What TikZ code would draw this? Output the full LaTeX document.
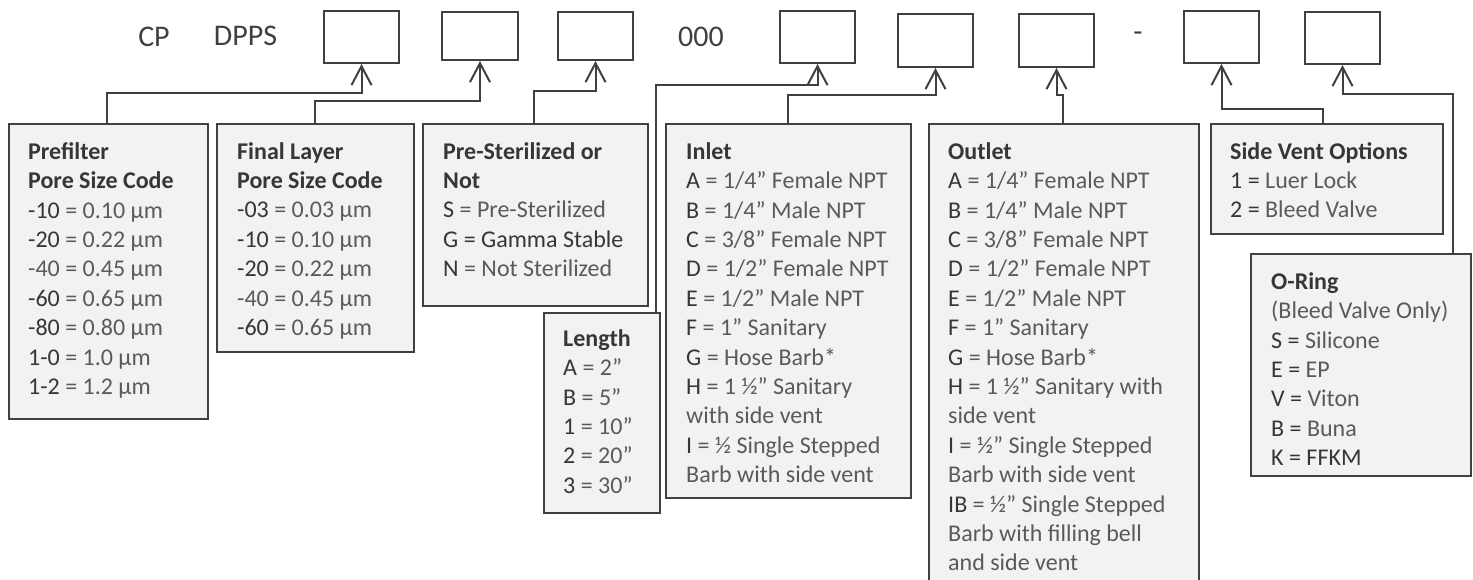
\documentclass[tikz,border=0pt]{standalone}
\usepackage{fontspec}
\setmainfont{Carlito}
\usetikzlibrary{arrows.meta}
\definecolor{ln}{HTML}{404040}
\definecolor{bx}{HTML}{F2F2F2}
\definecolor{cd}{HTML}{363636}
\definecolor{ds}{HTML}{5A5A5A}
\newcommand{\cde}[1]{\textcolor{cd}{#1}}
\newcommand{\ttl}[1]{\rule{0pt}{20pt}\textcolor{cd}{\bfseries #1}}
\newcommand{\ttlb}[1]{\textcolor{cd}{\bfseries #1}}
\begin{document}
\begin{tikzpicture}[x=1pt,y=-1pt,
  infobox/.style={draw=ln, line width=2pt, fill=bx, anchor=north west, inner sep=0pt},
  codebox/.style={draw=ln, line width=2pt, fill=white, anchor=north west, inner sep=0pt},
  info/.style={anchor=north west, inner sep=0pt, align=left, text=ds, font=\fontsize{24}{29.4}\selectfont},
  toptext/.style={text=ln, font=\fontsize{30}{36}\selectfont, inner sep=0pt},
  conn/.style={draw=ln, line width=2pt, -{Straight Barb[length=19pt,width=20pt]}},
]
\useasboundingbox (0,0) rectangle (1473,580);

% top row
\node[toptext] (cp) at (154,37) {CP};
\node[toptext] (dpps) at (245.5,36) {DPPS};
\node[toptext] (zero) at (701,37) {000};
\node[toptext] (dash) at (1138,37) {-};
\node[codebox, minimum width=75pt, minimum height=52pt] (b1) at (323,10) {};
\node[codebox, minimum width=76pt, minimum height=48pt] (b2) at (441,11) {};
\node[codebox, minimum width=75pt, minimum height=48pt] (b3) at (557,11) {};
\node[codebox, minimum width=75pt, minimum height=52pt] (b4) at (779,10) {};
\node[codebox, minimum width=75pt, minimum height=53pt] (b5) at (897,13) {};
\node[codebox, minimum width=75pt, minimum height=53pt] (b6) at (1018,13) {};
\node[codebox, minimum width=75pt, minimum height=52pt] (b7) at (1183,10) {};
\node[codebox, minimum width=75pt, minimum height=52pt] (b8) at (1304,11) {};

% info boxes
\node[infobox, minimum width=199pt, minimum height=295pt] (pf) at (8,123) {};
\node[infobox, minimum width=197pt, minimum height=228pt] (fl) at (216,123) {};
\node[infobox, minimum width=225pt, minimum height=182pt] (ps) at (422,123) {};
\node[infobox, minimum width=116pt, minimum height=200pt] (len) at (543,312) {};
\node[infobox, minimum width=245pt, minimum height=374pt] (inl) at (665,123) {};
\node[infobox, minimum width=270pt, minimum height=470pt] (out) at (928,123) {};
\node[infobox, minimum width=232pt, minimum height=110pt] (sv) at (1210,123) {};
\node[infobox, minimum width=220pt, minimum height=222pt] (or) at (1250,253) {};

% texts
\node[info] (tpf) at (28,139) {\ttl{Prefilter}\\ \ttlb{Pore Size Code}\\
\cde{-10} = 0.10 µm\\ \cde{-20} = 0.22 µm\\ -40 = 0.45 µm\\ \cde{-60} = 0.65 µm\\
\cde{-80} = 0.80 µm\\ \cde{1-0} = 1.0 µm\\ \cde{1-2} = 1.2 µm};
\node[info] (tfl) at (237,139) {\ttl{Final Layer}\\ \ttlb{Pore Size Code}\\
\cde{-03} = 0.03 µm\\ \cde{-10} = 0.10 µm\\ \cde{-20} = 0.22 µm\\ -40 = 0.45 µm\\ \cde{-60} = 0.65 µm};
\node[info] (tps) at (443,139) {\ttl{Pre-Sterilized or}\\ \ttlb{Not}\\
\cde{S} = Pre-Sterilized\\ \cde{G = Gamma Stable}\\ \cde{N} = Not Sterilized};
\node[info] (tlen) at (563,326) {\ttl{Length}\\ \cde{A} = 2”\\ \cde{B} = 5”\\ \cde{1} = 10”\\ \cde{2} = 20”\\ \cde{3} = 30”};
\node[info] (tinl) at (686,139) {\ttl{Inlet}\\
\cde{A} = 1/4” Female NPT\\ \cde{B} = 1/4” Male NPT\\ \cde{C} = 3/8” Female NPT\\
\cde{D} = 1/2” Female NPT\\ \cde{E} = 1/2” Male NPT\\ \cde{F} = 1” Sanitary\\
\cde{G} = Hose Barb*\\ \cde{H} = 1 ½” Sanitary\\ with side vent\\
\cde{I} = ½ Single Stepped\\ Barb with side vent};
\node[info] (tout) at (948,139) {\ttl{Outlet}\\
\cde{A} = 1/4” Female NPT\\ \cde{B} = 1/4” Male NPT\\ \cde{C} = 3/8” Female NPT\\
\cde{D} = 1/2” Female NPT\\ \cde{E} = 1/2” Male NPT\\ \cde{F} = 1” Sanitary\\
\cde{G} = Hose Barb*\\ \cde{H} = 1 ½” Sanitary with\\ side vent\\
\cde{I} = ½” Single Stepped\\ Barb with side vent\\ \cde{IB} = ½” Single Stepped\\
Barb with filling bell\\ and side vent};
\node[info] (tsv) at (1230,139) {\ttl{Side Vent Options}\\ \cde{1 =} Luer Lock\\ \cde{2 =} Bleed Valve};
\node[info] (tor) at (1271,269) {\ttl{O-Ring}\\ (Bleed Valve Only)\\ \cde{S =} Silicone\\
\cde{E =} EP\\ \cde{V =} Viton\\ \cde{B =} Buna\\ \cde{K = FFKM}};

% connectors
\draw[conn] ([xshift=99pt]pf.north west) -- ++(0,-30) -| (b1.south);
\draw[conn] ([xshift=99pt]fl.north west) -- ++(0,-22) -| (b2.south);
\draw[conn] ([xshift=112pt]ps.north west) -- ++(0,-32) -| (b3.south);
\draw[conn] ([xshift=113pt]len.north west) -- ++(0,-226.5) -| (b4.south);
\draw[conn] ([xshift=123pt]inl.north west) -- ++(0,-28) -| (b5.south);
\draw[conn] ([xshift=135pt]out.north west) -- ++(0,-28) -| (b6.south);
\draw[conn] ([xshift=113pt]sv.north west) -- ++(0,-14) -| (b7.south);
\draw[conn] ([xshift=203pt]or.north west) -- ++(0,-159) -| (b8.south);
\end{tikzpicture}
\end{document}
